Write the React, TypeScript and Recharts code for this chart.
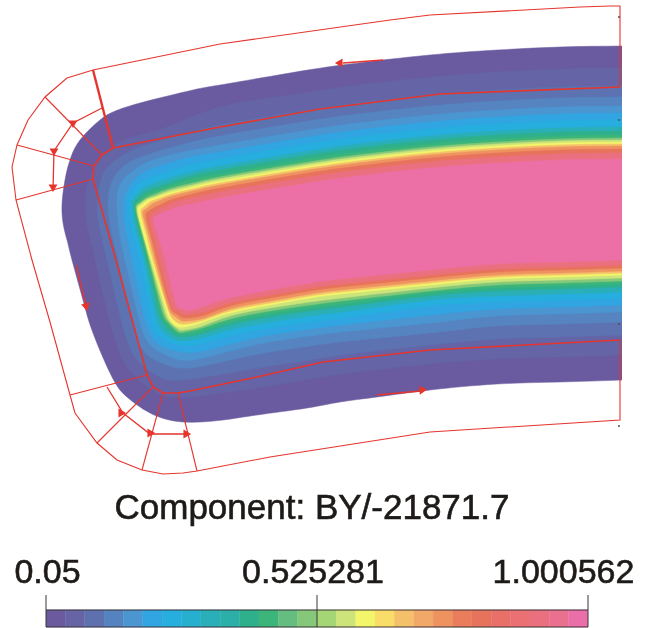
import React from "react";
import { Bar, BarChart, Curve, ReferenceLine, Scatter, ScatterChart, Symbols, XAxis, YAxis } from "recharts";

type Pair = [number, number];

// contour outlines, outermost level first
const level01: Pair[] = [[622,46],[560,47],[497,50],[430,55],[350,64],[290,73],[220,85],[193,90],[140,103],[113,112],[100,120],[80,140],[70,160],[65,180],[62,213],[67,240],[72,260],[83,300],[93,333],[112,377],[127,397],[150,413],[183,422],[223,420],[257,415],[307,408],[340,402],[377,397],[430,390],[497,384],[560,382],[622,380]];
const level02: Pair[] = [[622,68],[560,69],[497,72],[430,77],[350,86],[290,95],[220,107],[167,127],[133,137],[110,148],[97,163],[88,183],[85,207],[88,230],[95,260],[105,303],[115,340],[127,367],[145,385],[163,395],[190,397],[230,392],[270,386],[310,379],[350,373],[430,364],[497,359],[560,357],[622,355]];
const level03: Pair[] = [[622,86],[560,87],[497,90],[430,95],[350,104],[290,113],[220,125],[173,137],[140,147],[120,157],[107,168],[100,183],[97,207],[100,230],[107,260],[117,303],[127,340],[140,363],[160,377],[183,380],[230,373],[270,366],[310,360],[350,354],[430,345],[497,339],[560,337],[622,335]];
const level04: Pair[] = [[622,97],[560,98],[497,101],[430,106],[350,115],[290,124],[220,136],[180,145],[147,155],[128,163],[117,173],[110,187],[108,207],[111,230],[118,260],[128,303],[138,340],[150,357],[167,365],[190,368],[230,360],[270,352],[310,346],[350,341],[430,333],[497,326],[560,324],[622,322]];
const level05: Pair[] = [[622,106],[560,107],[497,110],[430,115],[350,124],[290,133],[220,145],[183,152],[153,160],[137,168],[125,178],[118,190],[117,207],[119,230],[125,260],[135,303],[145,337],[158,351],[173,358],[193,360],[230,351],[270,342],[310,336],[350,331],[430,323],[497,316],[560,314],[622,312]];
const level06: Pair[] = [[622,113],[560,114],[497,117],[430,122],[350,131],[290,140],[220,152],[187,158],[160,166],[143,173],[133,182],[127,192],[124,207],[126,230],[132,260],[141,303],[150,333],[162,346],[177,351],[197,352],[230,344],[270,335],[310,329],[350,324],[430,315],[497,309],[560,307],[622,305]];
const level07: Pair[] = [[622,120],[560,121],[497,124],[430,129],[350,138],[290,147],[220,159],[190,165],[167,172],[147,179],[138,185],[132,193],[129,203],[132,230],[140,260],[148,303],[155,330],[167,341],[180,345],[200,344],[230,336],[270,328],[310,322],[350,317],[430,306],[497,302],[560,300],[622,298]];
const level08: Pair[] = [[622,127],[560,128],[497,131],[430,136],[350,145],[290,154],[220,166],[195,171],[170,178],[150,185],[141,190],[135,197],[132,205],[136,230],[144,260],[153,303],[160,327],[171,338],[182,341],[201,338],[230,330],[270,322],[310,316],[350,311],[430,300],[497,296],[560,294],[622,292]];
const level09: Pair[] = [[622,131],[560,132],[497,135],[430,140],[350,149],[290,158],[220,170],[195,175],[172,182],[152,189],[143,193],[137,199],[134,207],[138,230],[146,260],[156,303],[163,323],[173,334],[183,337],[201,334],[230,325],[270,317],[310,311],[350,306],[430,296],[497,291],[560,289],[622,287]];
const level10: Pair[] = [[622,135],[560,136],[497,139],[430,144],[350,153],[290,162],[220,174],[197,178],[172,185],[153,192],[144,196],[138,201],[135,208],[140,230],[148,260],[158,303],[165,322],[175,332],[184,334],[202,331],[230,322],[270,314],[310,308],[350,303],[430,293],[497,288],[560,286],[622,284]];
const level11: Pair[] = [[622,138],[560,139],[497,142],[430,147],[350,156],[290,165],[220,177],[197,182],[172,188],[155,194],[146,198],[139,203],[136,209],[141,230],[149,260],[160,303],[167,321],[177,331],[184,332],[202,328],[230,319],[270,311],[310,305],[350,300],[430,291],[497,285],[560,283],[622,281]];
const level12: Pair[] = [[622,140],[560,141],[497,144],[430,149],[350,158],[290,167],[220,179],[197,184],[172,190],[156,196],[147,199],[140,204],[137,210],[142,230],[150,260],[162,303],[169,321],[178,329],[184,330],[202,326],[230,316],[270,308],[310,302],[350,297],[430,288],[497,282],[560,280],[622,278]];
const level13: Pair[] = [[622,142],[560,143],[497,146],[430,151],[350,160],[290,169],[220,181],[197,186],[172,192],[157,197],[148,200],[141,205],[138,211],[143,233],[151,260],[164,303],[170,320],[176,326],[185,327],[203,322],[230,313],[270,305],[310,298],[350,293],[430,285],[497,279],[560,277],[622,275]];
const level14: Pair[] = [[622,144],[560,145],[497,148],[430,153],[350,162],[290,171],[220,183],[197,188],[172,194],[158,199],[150,202],[144,207],[141,213],[146,233],[153,260],[166,303],[172,318],[178,323],[186,324],[204,320],[230,311],[270,303],[310,296],[350,291],[430,283],[497,277],[560,275],[622,273]];
const level15: Pair[] = [[622,146],[560,147],[497,150],[430,155],[350,164],[290,173],[220,185],[197,190],[172,196],[159,201],[152,204],[146,209],[143,214],[148,233],[155,260],[167,303],[173,315],[180,320],[187,321],[205,318],[230,309],[270,301],[310,294],[350,289],[430,281],[497,275],[560,273],[622,271]];
const level16: Pair[] = [[622,149],[560,150],[497,153],[430,158],[350,167],[290,176],[220,188],[197,193],[173,199],[162,204],[155,207],[149,211],[146,216],[150,233],[157,260],[169,303],[175,313],[181,317],[188,318],[205,315],[230,306],[270,298],[310,291],[350,286],[430,278],[497,272],[560,270],[622,268]];
const level17: Pair[] = [[622,153],[560,154],[497,157],[430,162],[350,171],[290,180],[220,192],[197,197],[175,202],[165,207],[158,210],[152,214],[150,218],[153,233],[160,260],[171,303],[177,310],[183,314],[190,314],[206,311],[230,303],[270,295],[310,288],[350,283],[430,275],[497,269],[560,267],[622,265]];
const level18: Pair[] = [[622,159],[560,160],[497,163],[430,168],[350,177],[290,186],[220,198],[197,203],[178,207],[168,211],[162,213],[156,216],[153,220],[157,233],[165,260],[175,300],[180,308],[185,310],[192,310],[208,305],[230,298],[270,290],[310,283],[350,278],[430,270],[497,264],[560,262],[622,260]];

const levels = [level01, level02, level03, level04, level05, level06, level07, level08, level09, level10, level11, level12, level13, level14, level15, level16, level17, level18];
const levelColors = ["#6a5a9f", "#6464a6", "#5d72b0", "#5584c0", "#4b95d1", "#30a5e1", "#25aede", "#2aafb8", "#2eb08c", "#3bb57a", "#85c87a", "#cde47a", "#f3f56a", "#f5c06a", "#ee9260", "#e8735c", "#ea7080", "#ec70a5"];

// red wireframe
const outerWire: Pair[] = [[620,87],[620,6],[610,6],[580,7],[430,15],[390,20],[220,44],[93,70],[67,78],[45,97],[28,120],[17,145],[12,167],[16,200],[32,260],[50,322],[70,395],[75,413],[97,443],[117,460],[142,470],[163,474],[183,473],[197,471],[270,457],[430,432],[620,420],[620,340]];
const innerWire: Pair[] = [[620,87],[440,94],[320,109],[220,127],[113,148],[102,155],[94,166],[93,179],[116,260],[147,375],[153,387],[163,393],[178,393],[190,391],[257,377],[323,362],[430,350],[620,340]];
const thickSpoke: Pair[] = [[93,70],[113,148]];
const thinSpokes: Pair[][] = [
  [[45,97],[102,155]],
  [[17,145],[94,166]],
  [[16,200],[93,179]],
  [[70,395],[147,375]],
  [[97,443],[153,387]],
  [[142,470],[163,393]],
  [[197,471],[178,393]],
];
const loadPaths: Pair[][] = [
  [[102,108],[73,123],[54,151],[53,190]],
  [[107,387],[123,413],[150,434],[186,434]],
  [[76,265],[86,306]],
  [[383,60],[343,63]],
  [[377,395],[421,391]],
];
const arrowHeads = [
  { x: 340, y: 63, angle: -90 },
  { x: 422, y: 390, angle: 85 },
  { x: 86, y: 306, angle: 166 },
  { x: 53, y: 187, angle: 180 },
  { x: 54, y: 151, angle: 60 },
  { x: 73, y: 123, angle: 60 },
  { x: 121, y: 413, angle: 90 },
  { x: 150, y: 433, angle: 90 },
  { x: 186, y: 434, angle: 90 },
];
const edgeDots: Pair[] = [[619,17],[619,120],[619,324],[619,426]];

// colour scale
const scaleTicks = [0.05, 0.525281, 1.000562];
const scaleTickLabels = ["0.05", "0.525281", "1.000562"];
const scaleTickShift = [1.5, -4, -24.5];
const scaleStep = 0.033949;
const scaleColors = ["#6c5a9f", "#6764a6", "#5f70af", "#5483bf", "#4b95d1", "#30a5e1", "#25aede", "#27afd0", "#2aafb8", "#2bafa8", "#2eb08c", "#3bb57a", "#65bd80", "#85c87a", "#a5d676", "#cde47a", "#f3f56a", "#fadd68", "#f5c06a", "#f2a868", "#ee9260", "#ea7e5c", "#e8735c", "#e97068", "#ea7074", "#ea7080", "#ea7090", "#ea6fa8"];
const scaleRow: Record<string, number | string> = { name: "BY", offset: 0.05 };
scaleColors.forEach((_, i) => {
  scaleRow["s" + i] = scaleStep;
});

const FONT = '"Liberation Sans", Arial, sans-serif';
const INK = "#1d1a18";
const RED = "#e5352d";
const BAR_LINE = "#3a3538";

const toPoints = (pairs: Pair[]) => pairs.map(([x, y]) => ({ x, y }));
const NoPoint = () => <g />;

const ArrowHead = (props: any) => {
  const { cx, cy, payload } = props;
  return (
    <g transform={`rotate(${payload.angle} ${cx} ${cy})`}>
      <Symbols cx={cx} cy={cy} type="triangle" size={34} fill={RED} />
    </g>
  );
};

const ScaleTick = (props: any) => {
  const { x, y, index } = props;
  return (
    <text x={x + scaleTickShift[index]} y={y} textAnchor="middle" fontFamily={FONT} fontSize={34} fill={INK} stroke={INK} strokeWidth={0.6}>
      {scaleTickLabels[index]}
    </text>
  );
};

export default function App() {
  const wires: { pairs: Pair[]; width: number }[] = [
    { pairs: outerWire, width: 1.1 },
    { pairs: innerWire, width: 1.7 },
    { pairs: thickSpoke, width: 2.4 },
    ...thinSpokes.map((pairs) => ({ pairs, width: 1.1 })),
    ...loadPaths.map((pairs) => ({ pairs, width: 1.3 })),
  ];

  return (
    <div style={{ position: "absolute", left: 0, top: 0, width: 648, height: 628, overflow: "hidden", background: "#fff", filter: "blur(0.4px)" }}>
      <div style={{ position: "absolute", left: 0, top: 0 }}>
        <ScatterChart width={648} height={628} margin={{ top: 0, right: 0, bottom: 0, left: 0 }}>
          <XAxis type="number" dataKey="x" domain={[0, 648]} hide />
          <YAxis type="number" dataKey="y" domain={[0, 628]} reversed hide />
          {levels.map((pairs, i) => (
            <Scatter
              key={"level" + i}
              data={toPoints(pairs)}
              shape={NoPoint}
              line={(p: any) => <Curve {...p} type="natural" fill={levelColors[i]} stroke={levelColors[i]} strokeWidth={0.5} />}
              isAnimationActive={false}
            />
          ))}
          {wires.map((wire, i) => (
            <Scatter
              key={"wire" + i}
              data={toPoints(wire.pairs)}
              shape={NoPoint}
              line={{ stroke: RED, strokeWidth: wire.width, fill: "none" }}
              isAnimationActive={false}
            />
          ))}
          <Scatter data={arrowHeads} shape={ArrowHead} isAnimationActive={false} />
          <Scatter data={toPoints(edgeDots)} fill="#5a4a50" shape={(p: any) => <circle cx={p.cx} cy={p.cy} r={1} fill="#5a4a50" />} isAnimationActive={false} />
        </ScatterChart>
      </div>
      <div style={{ position: "absolute", left: 0, top: 487, width: 624, textAlign: "center", fontFamily: FONT, fontSize: 35, lineHeight: "40px", color: INK, WebkitTextStroke: "0.6px " + INK }}>
        Component: BY/-21871.7
      </div>
      <div style={{ position: "absolute", left: 0, top: 540 }}>
        <BarChart width={648} height={88} data={[scaleRow]} layout="vertical" barCategoryGap={0} margin={{ top: 0, right: 60, bottom: 0, left: 46 }}>
          <XAxis
            type="number"
            orientation="top"
            xAxisId={0}
            domain={[0.05, 1.000562]}
            allowDataOverflow
            ticks={scaleTicks}
            interval={0}
            height={70}
            tickSize={15}
            tickMargin={12}
            tick={ScaleTick}
            stroke={BAR_LINE}
          />
          <XAxis type="number" orientation="bottom" xAxisId={1} domain={[0.05, 1.000562]} allowDataOverflow ticks={[]} height={1} stroke={BAR_LINE} />
          <YAxis type="category" dataKey="name" hide />
          <Bar dataKey="offset" stackId="scale" fill="none" isAnimationActive={false} />
          {scaleColors.map((color, i) => (
            <Bar key={color + i} dataKey={"s" + i} stackId="scale" fill={color} stroke={color} strokeWidth={0.4} isAnimationActive={false} />
          ))}
          {scaleTicks.map((t) => (
            <ReferenceLine key={t} x={t} stroke={BAR_LINE} strokeWidth={1} />
          ))}
        </BarChart>
      </div>
    </div>
  );
}
